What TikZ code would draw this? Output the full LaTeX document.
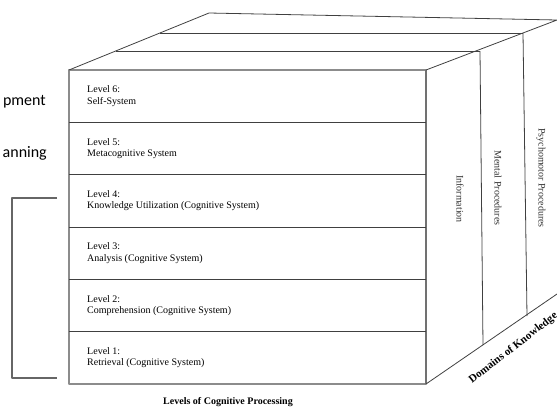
\documentclass[tikz,border=0pt]{standalone}
\usepackage{fontspec}
\setmainfont{Liberation Serif}
\newfontfamily\calibri{Carlito}
\def\rowh{52.33}

\begin{document}
\begin{tikzpicture}[x=1pt, y=-1pt, line join=round]
    \tikzstyle{edge line}=[draw=black!75, line width=0.8pt]
    \tikzstyle{frame line}=[draw=black!45, line width=1.3pt]
    \tikzstyle{level}=[anchor=west, align=left, inner sep=0pt, font=\fontsize{10}{11.5}\selectfont]
    \tikzstyle{domain text}=[rotate=-90, inner sep=0pt, font=\fontsize{10}{12}\selectfont, text=black!80]
    \tikzstyle{axis label}=[inner sep=0pt, font=\bfseries\fontsize{10}{12}\selectfont]
    \tikzstyle{side text}=[anchor=east, inner sep=0pt, font=\calibri\fontsize{16}{19}\selectfont]

    \useasboundingbox (0,0) rectangle (557,408);

    % cube corners
    \coordinate (FTL) at (69,70);
    \coordinate (FTR) at (426,70);
    \coordinate (FBL) at (69,384);
    \coordinate (FBR) at (426,384);
    \coordinate (BTL) at (209,13);
    \coordinate (BTR) at (557,20);
    \coordinate (BBR) at (557,294);

    % front face
    \draw[frame line] (FTL) rectangle (FBR);
    \foreach \i in {1,...,5}
        \draw[edge line] (69,{70+\i*\rowh}) -- (426,{70+\i*\rowh});

    \foreach \lvl/\lbl [count=\i from 0] in {6/Self-System, 5/Metacognitive System,
            4/Knowledge Utilization (Cognitive System), 3/Analysis (Cognitive System),
            2/Comprehension (Cognitive System), 1/Retrieval (Cognitive System)}
        \node[level] (L-\lvl) at (87,{70+(\i+0.5)*\rowh}) {Level \lvl:\\\lbl};

    % top face
    \draw[edge line] (FTL) -- (BTL) -- (BTR) -- (FTR) -- (FBR);
    \coordinate (T1L) at (160,33);
    \coordinate (T1R) at (523,33);
    \coordinate (T2L) at (116,51);
    \coordinate (T2R) at (480,51);
    \draw[edge line] (T1L) -- (T1R);
    \draw[edge line] (T2L) -- (T2R);

    % side face
    \coordinate (S1B) at (527,316);
    \coordinate (S2B) at (483,345);
    \draw[edge line] (T1R) -- (S1B);
    \draw[edge line] (T2R) -- (S2B);
    \draw[edge line] (FBR) -- (BBR);

    \node[domain text] (info) at (460,199) {Information};
    \node[domain text] (mental) at (498,188) {Mental Procedures};
    \node[domain text] (psycho) at (541,178) {Psychomotor Procedures};

    \node[axis label, anchor=base west, rotate=38, font=\bfseries\fontsize{11}{13}\selectfont] (dom) at (472,384) {Domains of Knowledge};
    \node[axis label] (lev) at (228,402) {Levels of Cognitive Processing};

    % left side
    \node[side text] (dev) at (46,102) {pment};
    \node[side text] (plan) at (47,153) {anning};

    \coordinate (B1) at (57,198);
    \coordinate (B2) at (57,378);
    \draw[black!60, line width=1.2pt] (B1) -- (12,198) -- (12,378) -- (B2);
\end{tikzpicture}
\end{document}
